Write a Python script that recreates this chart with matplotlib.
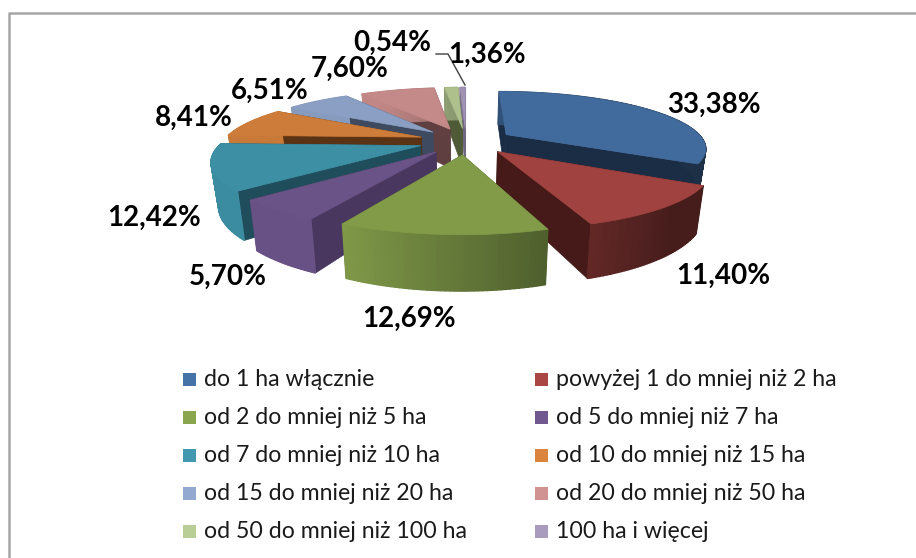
import numpy as np
import matplotlib
matplotlib.use('Agg')
import matplotlib.pyplot as plt
from matplotlib.colors import to_rgb

# legend entries
categories = ['do 1 ha włącznie', 'powyżej 1 do mniej niż 2 ha',
              'od 2 do mniej niż 5 ha', 'od 5 do mniej niż 7 ha',
              'od 7 do mniej niż 10 ha', 'od 10 do mniej niż 15 ha',
              'od 15 do mniej niż 20 ha', 'od 20 do mniej niż 50 ha',
              'od 50 do mniej niż 100 ha', '100 ha i więcej']
# printed labels
label_texts = ['33,38%', '11,40%', '12,69%', '5,70%', '12,42%',
               '8,41%', '6,51%', '7,60%', '0,54%', '1,36%']
# slice sizes as drawn (the two smallest look swapped against their labels)
shares = [33.38, 11.40, 12.69, 5.70, 12.42, 8.41, 6.51, 7.60, 1.36, 0.54]
colors = ['#4572a7', '#aa4643', '#89a54e', '#71588f', '#4198af',
          '#db843d', '#93a9cf', '#d19392', '#b9cd96', '#a99bbd']
cut_colors = ['#1b2c45', '#451a18', '#4a5a28', '#4a3760', '#1f4d5c',
              '#5a3214', '#3d4a60', '#5f3f3f', '#4f5a38', '#6f6880']
label_pos = [(714, 105), (723, 276), (409, 319), (228, 277), (154, 218),
             (194, 118), (270, 91), (350, 69), (392, 43), (487, 55)]

CX, CY = 466, 141
RX, RY = 198, 55
PERSP = 0.22
EXPLODE = 0.24
DEPTH = 41


def project(x, y, z=0.0):
    """disc coordinates (y towards the viewer) to pixels, z=1 is the bottom"""
    f = 1.0 / (1.0 - PERSP * y)
    px = CX + RX * x * f * (1.0 - 0.03 * z)
    py = CY + RY * y * f + DEPTH * f * z
    return px, py


def shade(color, nx):
    """walls facing left are light, walls facing right are dark"""
    k = np.clip(0.72 - 0.45 * nx, 0.42, 0.92)
    return tuple(c * k for c in to_rgb(color))


def draw_slice(ax, a0, a1, color, cut):
    mid = (a0 + a1) / 2
    ox = EXPLODE * np.sin(mid)
    oy = -EXPLODE * np.cos(mid)
    th = np.linspace(a0, a1, max(int(np.degrees(a1 - a0)), 2) + 1)
    xs = ox + np.sin(th)
    ys = oy - np.cos(th)

    # the two cut faces, the one further back first
    faces = sorted([a0, a1], key=lambda t: -np.cos(t))
    for t in faces:
        rx = ox + np.sin(t)
        ry = oy - np.cos(t)
        pts = [project(ox, oy), project(rx, ry), project(rx, ry, 1), project(ox, oy, 1)]
        ax.fill(*zip(*pts), color=cut, lw=0.5, zorder=2)

    # outer wall in strips
    for i in range(len(th) - 1):
        pts = [project(xs[i], ys[i]), project(xs[i + 1], ys[i + 1]),
               project(xs[i + 1], ys[i + 1], 1), project(xs[i], ys[i], 1)]
        c = shade(color, np.sin((th[i] + th[i + 1]) / 2))
        ax.fill(*zip(*pts), color=c, lw=1.0, zorder=2)

    # top face
    pts = [project(ox, oy)] + [project(x, y) for x, y in zip(xs, ys)]
    top = tuple(c * 0.94 for c in to_rgb(color))
    ax.fill(*zip(*pts), color=top, lw=0.5, zorder=2)


def main():
    fig = plt.figure(figsize=(9.16, 5.58), dpi=100)
    ax = fig.add_axes([0, 0, 1, 1])
    ax.set_xlim(0, 916)
    ax.set_ylim(558, 0)
    ax.axis('off')

    # frame, only the left and top edges are in the picture
    ax.plot([9, 9, 916], [558, 13, 13], color='#a6a6a6', lw=1.8, zorder=1)

    edges = np.cumsum([0] + shares) / sum(shares) * 2 * np.pi
    slices = list(zip(edges[:-1], edges[1:], colors, cut_colors))
    # paint from the back of the pie to the front
    slices.sort(key=lambda s: -np.cos((s[0] + s[1]) / 2))
    for a0, a1, color, cut in slices:
        draw_slice(ax, a0, a1, color, cut)

    for text, (x, y) in zip(label_texts, label_pos):
        ax.text(x, y, text, fontsize=20, fontweight='bold', family='Lato',
                ha='center', va='center', color='black', zorder=5)
    # leader line for the last label
    ax.plot([436, 448, 465], [54, 54, 85], color='#404040', lw=1, zorder=4)

    # legend, filled row by row
    for i, name in enumerate(categories):
        col, row = i % 2, i // 2
        x = 183 + col * 352
        y = 379 + row * 38.2
        ax.fill([x, x + 13, x + 13, x], [y - 6.5, y - 6.5, y + 6.5, y + 6.5],
                color=colors[i], lw=0)
        ax.text(x + 21, y, name, fontsize=16.7, family='Lato', ha='left', va='center',
                color='#1a1a1a')

    fig.savefig('out.png', dpi=100)


if __name__ == '__main__':
    main()
